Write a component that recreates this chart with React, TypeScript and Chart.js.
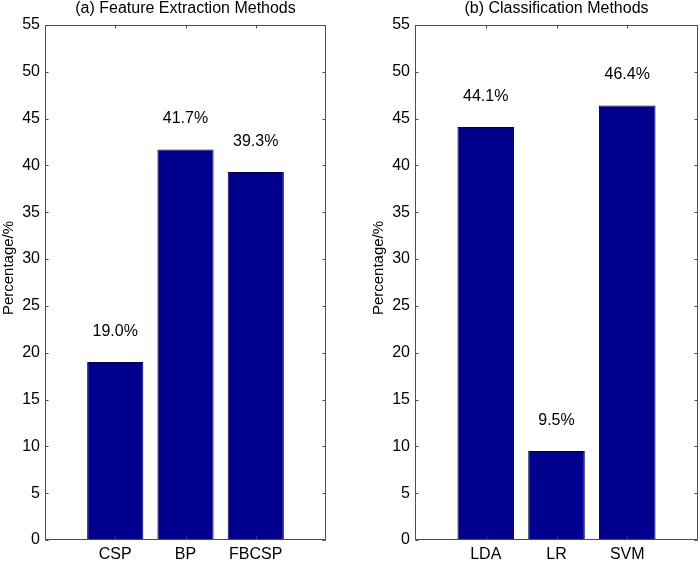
import React, { useEffect, useRef } from "react";
import { Chart, registerables } from "chart.js";

Chart.register(...registerables);

const featureTitle = "(a) Feature Extraction Methods";
const featureCats = ["CSP", "BP", "FBCSP"];
const featureVals = [19.0, 41.7, 39.3];

const classTitle = "(b) Classification Methods";
const classCats = ["LDA", "LR", "SVM"];
const classVals = [44.1, 9.5, 46.4];

const yLabel = "Percentage/%";
const yMin = 0;
const yMax = 55;
const yStep = 5;
const labelOffset = 3.3;

const FONT = "Arial, 'Liberation Sans', Helvetica, sans-serif";
const BAR = "rgb(0,0,143)";
const AXIS = "#4d4d4d";

function makeConfig(title: string, cats: string[], vals: number[], padRight: number): any {
  const boxPlugin = {
    id: "boxAndLabels",
    afterDraw(chart: any) {
      const { ctx, chartArea } = chart;
      const xs = chart.scales.x;
      const ys = chart.scales.y;
      const l = Math.round(chartArea.left) + 0.5;
      const r = Math.round(chartArea.right) - 0.5;
      const t = Math.round(chartArea.top) + 0.5;
      const b = Math.round(chartArea.bottom) - 0.5;
      ctx.save();
      ctx.strokeStyle = AXIS;
      ctx.lineWidth = 1;
      ctx.strokeRect(l, t, r - l, b - t);
      const tl = 3;
      ctx.beginPath();
      for (let v = yMin; v <= yMax; v += yStep) {
        const y = Math.round(ys.getPixelForValue(v)) + 0.5;
        ctx.moveTo(l, y);
        ctx.lineTo(l + tl, y);
        ctx.moveTo(r, y);
        ctx.lineTo(r - tl, y);
      }
      cats.forEach((_, i) => {
        const x = Math.round(xs.getPixelForValue(i + 1)) + 0.5;
        ctx.moveTo(x, t);
        ctx.lineTo(x, t + tl);
        ctx.moveTo(x, b);
        ctx.lineTo(x, b - tl);
      });
      ctx.stroke();
      // value labels
      ctx.fillStyle = "#000";
      ctx.font = `16px ${FONT}`;
      ctx.textAlign = "center";
      ctx.textBaseline = "middle";
      vals.forEach((v, i) => {
        ctx.fillText(v.toFixed(1) + "%", xs.getPixelForValue(i + 1), ys.getPixelForValue(v + labelOffset));
      });
      // title
      ctx.fillText(title, (chartArea.left + chartArea.right) / 2, 9);
      // y axis label
      ctx.save();
      ctx.translate(ys.left + 9, 268);
      ctx.rotate(-Math.PI / 2);
      ctx.font = `15px ${FONT}`;
      ctx.fillText(yLabel, 0, 0);
      ctx.restore();
      ctx.restore();
    },
  };

  return {
    type: "bar",
    data: {
      datasets: [
        {
          data: cats.map((_, i) => ({ x: i + 1, y: vals[i] })),
          backgroundColor: BAR,
          borderColor: "rgb(0,0,90)",
          borderWidth: 1,
          barPercentage: 0.8,
          categoryPercentage: 1.0,
        },
      ],
    },
    options: {
      responsive: false,
      animation: false,
      devicePixelRatio: 1,
      layout: { padding: { left: 0, right: padRight, top: 25, bottom: 0 } },
      plugins: { legend: { display: false }, tooltip: { enabled: false }, title: { display: false } },
      scales: {
        x: {
          type: "linear",
          min: 0,
          max: 4,
          offset: false,
          grid: { display: false, drawTicks: false, offset: false },
          border: { display: false },
          afterBuildTicks: (scale: any) => {
            scale.ticks = cats.map((_, i) => ({ value: i + 1 }));
          },
          afterFit: (scale: any) => {
            scale.height = 21;
          },
          ticks: {
            color: "#000",
            font: { family: FONT, size: 16 },
            padding: 5,
            maxRotation: 0,
            autoSkip: false,
            callback: (v: any) => cats[Number(v) - 1] ?? "",
          },
        },
        y: {
          type: "linear",
          min: yMin,
          max: yMax,
          grid: { display: false, drawTicks: false },
          border: { display: false },
          afterFit: (scale: any) => {
            scale.width = 45;
          },
          ticks: {
            stepSize: yStep,
            color: "#000",
            font: { family: FONT, size: 16 },
            padding: 5,
          },
          title: { display: false },
        },
      },
    },
    plugins: [boxPlugin],
  };
}

function Panel(props: { title: string; cats: string[]; vals: number[]; left: number; width: number; padRight: number }) {
  const ref = useRef<HTMLCanvasElement | null>(null);
  useEffect(() => {
    if (!ref.current) return;
    const chart = new Chart(ref.current, makeConfig(props.title, props.cats, props.vals, props.padRight));
    return () => chart.destroy();
  }, []);
  return (
    <div style={{ position: "absolute", left: props.left, top: 0, width: props.width, height: 561 }}>
      <canvas ref={ref} width={props.width} height={561} style={{ width: props.width, height: 561, display: "block" }} />
    </div>
  );
}

export default function App() {
  return (
    <div style={{ position: "fixed", left: 0, top: 0, width: 700, height: 561, background: "#fff" }}>
      <Panel title={featureTitle} cats={featureCats} vals={featureVals} left={0} width={350} padRight={24} />
      <Panel title={classTitle} cats={classCats} vals={classVals} left={370} width={330} padRight={2} />
    </div>
  );
}
